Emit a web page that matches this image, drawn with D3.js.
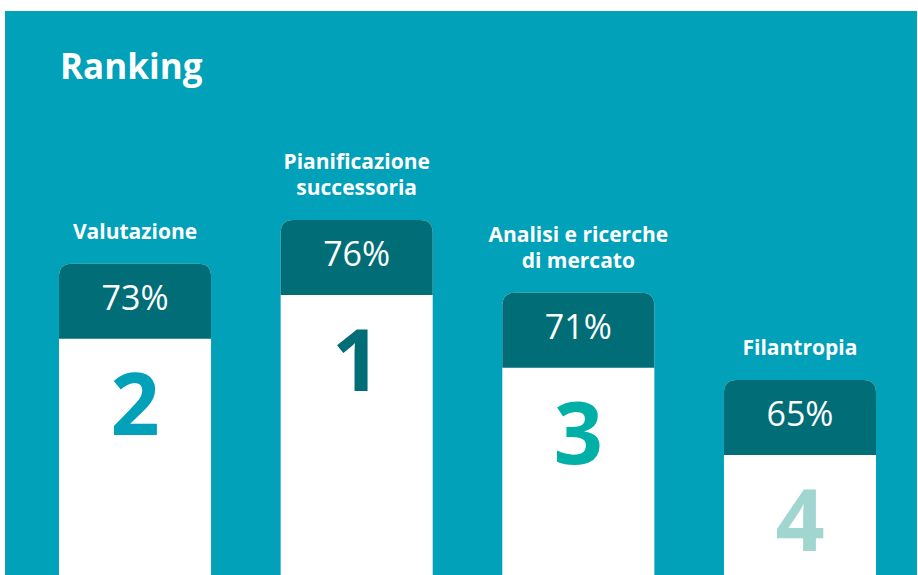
<!DOCTYPE html>
<html>
<head>
<meta charset="utf-8">
<script src="https://cdn.jsdelivr.net/npm/d3@7"></script>
<style>
  html, body { margin: 0; padding: 0; background: #ffffff; }
  svg { display: block; font-family: "Open Sans", "Noto Sans", sans-serif; }
</style>
</head>
<body>
<svg id="chart" width="918" height="575"></svg>
<script>
// Survey ranking: share of respondents per service area and its rank
const categories = ["Valutazione", "Pianificazione\nsuccessoria", "Analisi e ricerche\ndi mercato", "Filantropia"];
const shares = [73, 76, 71, 65];
const ranks = [2, 1, 3, 4];
const title = "Ranking";

const W = 918, H = 575;
const panel = { x: 5, y: 11, w: 912, h: 564 };
const bg = "#00a1b9";
const header = "#006d77";
const headerH = 75;
const radius = 13;

const svg = d3.select("#chart");

svg.append("rect")
  .attr("x", panel.x).attr("y", panel.y)
  .attr("width", panel.w).attr("height", panel.h)
  .attr("fill", bg);

svg.append("text")
  .attr("x", 60).attr("y", 79)
  .attr("fill", "#ffffff")
  .attr("font-size", 35).attr("font-weight", 700)
  .text(title);

const x = d3.scaleBand()
  .domain(categories)
  .range([59, 876])
  .paddingInner(0.314)
  .paddingOuter(0);

// top edge of each column follows the share
const y = d3.scaleLinear().domain([65, 76]).range([380, 220]);

const rankColor = d3.scaleOrdinal()
  .domain([1, 2, 3, 4])
  .range(["#006d77", "#00a1b9", "#00b0a6", "#a0d5d0"]);

const data = categories.map((c, i) => ({ cat: c, share: shares[i], rank: ranks[i] }));

function topRounded(x0, y0, w, h, r) {
  return `M${x0},${y0 + h}V${y0 + r}Q${x0},${y0} ${x0 + r},${y0}H${x0 + w - r}Q${x0 + w},${y0} ${x0 + w},${y0 + r}V${y0 + h}Z`;
}

const g = svg.selectAll("g.col").data(data).join("g").attr("class", "col");
const bw = x.bandwidth();

g.append("path")
  .attr("d", d => topRounded(x(d.cat), y(d.share), bw, H - y(d.share), radius))
  .attr("fill", "#ffffff");

g.append("path")
  .attr("d", d => topRounded(x(d.cat), y(d.share), bw, headerH, radius))
  .attr("fill", header);

g.append("text")
  .attr("x", d => x(d.cat) + bw / 2)
  .attr("y", d => y(d.share) + 46)
  .attr("text-anchor", "middle")
  .attr("fill", "#ffffff")
  .attr("font-size", 34)
  .text(d => d3.format(".0f")(d.share) + "%");

g.append("text")
  .attr("x", d => x(d.cat) + bw / 2)
  .attr("y", d => y(d.share) + headerH + 96)
  .attr("text-anchor", "middle")
  .attr("fill", d => rankColor(d.rank))
  .attr("font-size", 86)
  .attr("font-weight", 700)
  .text(d => d.rank);

// category names sit above each column, wrapped onto lines
g.each(function (d) {
  const lines = d.cat.split("\n");
  const lh = 26;
  const last = y(d.share) - 25;
  const t = d3.select(this).append("text")
    .attr("text-anchor", "middle")
    .attr("fill", "#ffffff")
    .attr("font-size", 21)
    .attr("font-weight", 700);
  lines.forEach((ln, i) => {
    t.append("tspan")
      .attr("x", x(d.cat) + bw / 2)
      .attr("y", last - (lines.length - 1 - i) * lh)
      .text(ln);
  });
});
</script>
</body>
</html>
